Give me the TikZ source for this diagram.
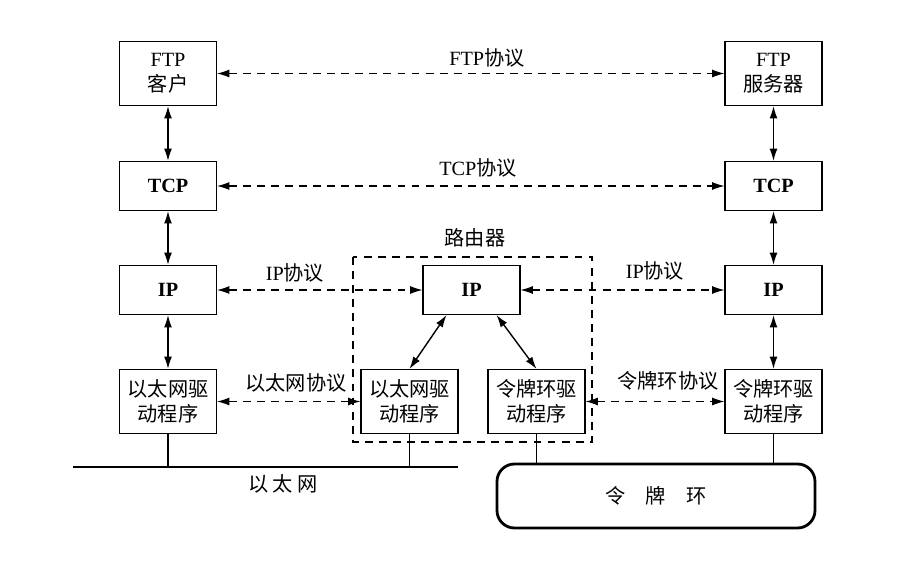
\documentclass[tikz,border=0pt]{standalone}
\usepackage{fontspec}
\setmainfont{Liberation Serif}
\newfontfamily\cjk{Noto Sans CJK SC}
\usetikzlibrary{arrows.meta}
\tikzset{
  layer/.style={draw, line width=0.6pt, minimum width=1.94cm, align=center, font=\fontsize{11.5}{14}\selectfont},
  proto/.style={<->, dashed, dash pattern=on 4.5pt off 3.5pt, line width=0.6pt},
  stack/.style={<->, line width=0.8pt},
  label/.style={font=\fontsize{11.5}{14}\selectfont}
}
\begin{document}
\begin{tikzpicture}[>={Latex[length=7pt,width=4.5pt]}]
\useasboundingbox (0,0) rectangle (17.94,-11.34);
% left host
\node[layer, minimum height=1.28cm] (ftpc) at (3.36,-1.47) {FTP\\{\cjk 客户}};
\node[layer, minimum height=0.98cm] (tcpl) at (3.36,-3.72) {\textbf{TCP}};
\node[layer, minimum height=0.98cm] (ipl) at (3.36,-5.8) {\textbf{IP}};
\node[layer, minimum height=1.28cm] (ethl) at (3.36,-8.03) {{\cjk 以太网驱}\\{\cjk 动程序}};
% router
\draw[dashed, dash pattern=on 4.5pt off 3.5pt, line width=0.6pt] (7.06,-5.14) rectangle (11.84,-8.84);
\node[label] (rname) at (9.5,-4.76) {\cjk 路由器};
\node[layer, minimum height=0.98cm] (ipr) at (9.43,-5.8) {\textbf{IP}};
\node[layer, minimum height=1.28cm] (ethr) at (8.19,-8.03) {{\cjk 以太网驱}\\{\cjk 动程序}};
\node[layer, minimum height=1.28cm] (tokr) at (10.73,-8.03) {{\cjk 令牌环驱}\\{\cjk 动程序}};
% right host
\node[layer, minimum height=1.28cm] (ftps) at (15.47,-1.47) {FTP\\{\cjk 服务器}};
\node[layer, minimum height=0.98cm] (tcps) at (15.47,-3.72) {\textbf{TCP}};
\node[layer, minimum height=0.98cm] (ips) at (15.47,-5.8) {\textbf{IP}};
\node[layer, minimum height=1.28cm] (toks) at (15.47,-8.03) {{\cjk 令牌环驱}\\{\cjk 动程序}};
% networks
\node[draw, line width=1.6pt, rounded corners=0.35cm, minimum width=6.36cm, minimum height=1.28cm, label] (ring) at (13.12,-9.92) {\cjk 令\quad 牌\quad 环};
\coordinate (ethw) at (1.46,-9.34);
\coordinate (ethe) at (9.16,-9.34);
\draw[line width=1.6pt] (ethw) -- (ethe);
\node[label] (ethname) at (5.66,-9.68) {\cjk 以\ 太\ 网};
\draw[line width=0.6pt] (ethl) -- (ethl |- ethw);
\draw[line width=0.6pt] (ethr) -- (ethr |- ethw);
\draw[line width=0.6pt] (tokr) -- (tokr |- ring.north);
\draw[line width=0.6pt] (toks) -- (toks |- ring.north);
% stacks
\draw[stack] (ftpc) -- (tcpl);
\draw[stack] (tcpl) -- (ipl);
\draw[stack] (ipl) -- (ethl);
\draw[stack] (ftps) -- (tcps);
\draw[stack] (tcps) -- (ips);
\draw[stack] (ips) -- (toks);
\draw[stack] ([xshift=-0.5cm]ipr.south) -- (ethr.north);
\draw[stack] ([xshift=0.5cm]ipr.south) -- (tokr.north);
% protocols
\draw[proto] (ftpc) -- (ftps);
\draw[proto] (tcpl) -- (tcps);
\draw[proto] (ipl) -- (ipr);
\draw[proto] (ipr) -- (ips);
\draw[proto] (ethl) -- (ethr);
\draw[proto] (tokr) -- (toks);
\node[label] (ftpp) at (9.74,-1.16) {FTP{\cjk 协议}};
\node[label] (tcpp) at (9.56,-3.36) {TCP{\cjk 协议}};
\node[label] (ipp1) at (5.9,-5.46) {IP{\cjk 协议}};
\node[label] (ipp2) at (13.1,-5.42) {IP{\cjk 协议}};
\node[label] (ethp) at (5.92,-7.66) {\cjk 以太网协议};
\node[label] (tokp) at (13.36,-7.62) {\cjk 令牌环协议};
\end{tikzpicture}
\end{document}
